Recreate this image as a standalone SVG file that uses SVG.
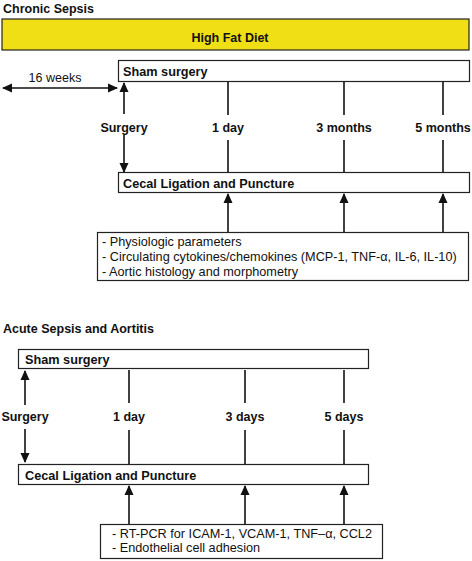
<svg xmlns="http://www.w3.org/2000/svg" width="472" height="561" viewBox="0 0 472 561">
<defs>
<marker id="ah" viewBox="0 0 10 10" refX="9" refY="5" markerWidth="10" markerHeight="10" markerUnits="userSpaceOnUse" orient="auto-start-reverse">
<path d="M0,0.5 L10,5 L0,9.5 z" fill="#111"/>
</marker>
<style>
text{font-family:"Liberation Sans",Arial,sans-serif;fill:#111}
.t{font-weight:bold;font-size:12.5px}
.b{font-weight:bold;font-size:12.7px}
.r{font-size:12.7px}
.box{fill:#fff;stroke:#222;stroke-width:1.2}
.ln{stroke:#111;stroke-width:1.6;fill:none}
.ar{stroke:#111;stroke-width:1.6;fill:none;marker-end:url(#ah)}
.da{stroke:#111;stroke-width:1.6;fill:none;marker-start:url(#ah);marker-end:url(#ah)}
</style>
</defs>
<rect width="472" height="561" fill="#fff"/>

<text id="title1" class="t" x="3" y="13">Chronic Sepsis</text>
<g id="hfd"><rect x="2" y="19" width="467" height="31" fill="#f1df16" stroke="#222" stroke-width="1.2"/><text class="t" x="230" y="42" text-anchor="middle">High Fat Diet</text></g>
<g id="sham1"><rect class="box" x="118.5" y="60.5" width="351" height="21"/><text class="b" x="123" y="76">Sham surgery</text></g>
<g id="clp1"><rect class="box" x="118.5" y="172.5" width="351" height="20"/><text class="b" x="123" y="188">Cecal Ligation and Puncture</text></g>
<g id="meas1"><rect class="box" x="97.5" y="232.5" width="371" height="48"/>
<text class="r" x="102" y="246">- Physiologic parameters</text>
<text class="r" x="102" y="261">- Circulating cytokines/chemokines (MCP-1, TNF-α, IL-6, IL-10)</text>
<text class="r" x="102" y="276">- Aortic histology and morphometry</text></g>
<g id="labels1">
<text class="t" x="55" y="82" text-anchor="middle" style="font-weight:normal">16 weeks</text>
<text class="t" x="124" y="132" text-anchor="middle">Surgery</text>
<text class="t" x="228" y="132" text-anchor="middle">1 day</text>
<text class="t" x="344" y="132" text-anchor="middle">3 months</text>
<text class="t" x="443" y="132" text-anchor="middle">5 months</text>
</g>

<text id="title2" class="t" x="3" y="333">Acute Sepsis and Aortitis</text>
<g id="sham2"><rect class="box" x="18.5" y="349.5" width="350" height="19"/><text class="b" x="25" y="364">Sham surgery</text></g>
<g id="clp2"><rect class="box" x="18.5" y="464.5" width="350" height="20"/><text class="b" x="25" y="480">Cecal Ligation and Puncture</text></g>
<g id="meas2"><rect class="box" x="100.5" y="524.5" width="282" height="34"/>
<text class="r" x="112" y="538">- RT-PCR for ICAM-1, VCAM-1, TNF–α, CCL2</text>
<text class="r" x="112" y="552">- Endothelial cell adhesion</text></g>
<g id="labels2">
<text class="t" x="25" y="421" text-anchor="middle">Surgery</text>
<text class="t" x="129" y="421" text-anchor="middle">1 day</text>
<text class="t" x="245" y="421" text-anchor="middle">3 days</text>
<text class="t" x="344" y="421" text-anchor="middle">5 days</text>
</g>

<g id="connectors">
<line class="da" x1="3" y1="88" x2="117" y2="88"/>
<line class="ar" x1="124" y1="114" x2="124" y2="83"/>
<line class="ar" x1="124" y1="135" x2="124" y2="172"/>
<line class="ln" x1="228" y1="82" x2="228" y2="115"/>
<line class="ln" x1="344" y1="82" x2="344" y2="115"/>
<line class="ln" x1="443" y1="82" x2="443" y2="115"/>
<line class="ln" x1="228" y1="140" x2="228" y2="172"/>
<line class="ln" x1="344" y1="140" x2="344" y2="172"/>
<line class="ln" x1="443" y1="140" x2="443" y2="172"/>
<line class="ar" x1="228" y1="232" x2="228" y2="194"/>
<line class="ar" x1="344" y1="232" x2="344" y2="194"/>
<line class="ar" x1="443" y1="232" x2="443" y2="194"/>

<line class="ar" x1="25" y1="405" x2="25" y2="371"/>
<line class="ar" x1="25" y1="429" x2="25" y2="462"/>
<line class="ln" x1="129" y1="370" x2="129" y2="403"/>
<line class="ln" x1="245" y1="370" x2="245" y2="403"/>
<line class="ln" x1="344" y1="370" x2="344" y2="403"/>
<line class="ln" x1="129" y1="430" x2="129" y2="464"/>
<line class="ln" x1="245" y1="430" x2="245" y2="464"/>
<line class="ln" x1="344" y1="430" x2="344" y2="464"/>
<line class="ar" x1="129" y1="524" x2="129" y2="486"/>
<line class="ar" x1="245" y1="524" x2="245" y2="486"/>
<line class="ar" x1="344" y1="524" x2="344" y2="486"/>
</g>
</svg>
